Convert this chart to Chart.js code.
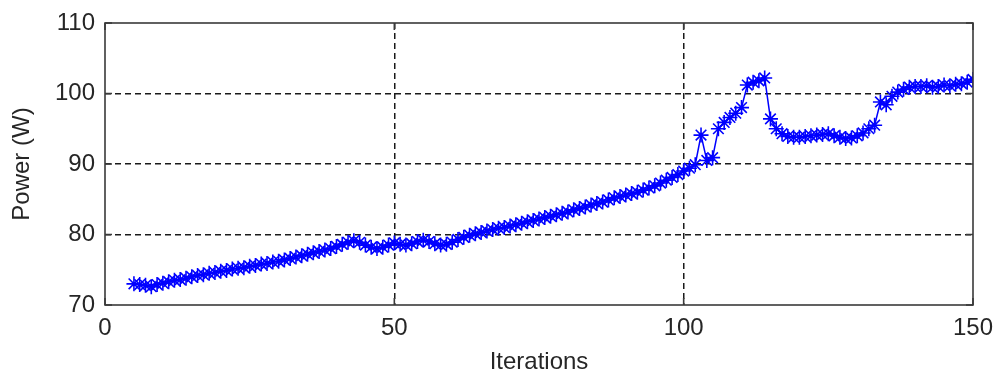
<!DOCTYPE html>
<html>
<head>
<meta charset="utf-8">
<script src="https://cdn.jsdelivr.net/npm/chart.js@4/dist/chart.umd.min.js"></script>
<style>
  html, body { margin: 0; padding: 0; background: #fff; }
  #holder { width: 998px; height: 374px; position: relative; }
</style>
</head>
<body>
<div id="holder"><canvas id="c1"></canvas></div>
<script>
// values
var iterations = [
    5, 6, 7, 8, 9, 10, 11, 12, 13, 14, 15, 16, 17, 18, 19, 20, 21, 22, 23, 24,
    25, 26, 27, 28, 29, 30, 31, 32, 33, 34, 35, 36, 37, 38, 39, 40, 41, 42, 43, 44,
    45, 46, 47, 48, 49, 50, 51, 52, 53, 54, 55, 56, 57, 58, 59, 60, 61, 62, 63, 64,
    65, 66, 67, 68, 69, 70, 71, 72, 73, 74, 75, 76, 77, 78, 79, 80, 81, 82, 83, 84,
    85, 86, 87, 88, 89, 90, 91, 92, 93, 94, 95, 96, 97, 98, 99, 100, 101, 102, 103, 104,
    105, 106, 107, 108, 109, 110, 111, 112, 113, 114, 115, 116, 117, 118, 119, 120, 121, 122, 123, 124,
    125, 126, 127, 128, 129, 130, 131, 132, 133, 134, 135, 136, 137, 138, 139, 140, 141, 142, 143, 144,
    145, 146, 147, 148, 149, 150
];
var power = [
    73.0, 72.9, 72.8, 72.6, 72.9, 73.1, 73.3, 73.5, 73.6, 73.8, 74.0, 74.2, 74.3, 74.5, 74.6, 74.8, 74.9, 75.1, 75.2, 75.3,
    75.5, 75.6, 75.8, 75.9, 76.1, 76.2, 76.4, 76.6, 76.8, 77.0, 77.2, 77.4, 77.6, 77.8, 78.0, 78.3, 78.6, 78.9, 79.1, 78.9,
    78.5, 78.2, 78.0, 78.2, 78.5, 78.8, 78.6, 78.5, 78.7, 79.0, 79.2, 79.0, 78.7, 78.5, 78.6, 78.9, 79.3, 79.6, 79.9, 80.1,
    80.3, 80.5, 80.7, 80.9, 81.0, 81.2, 81.4, 81.6, 81.8, 82.0, 82.2, 82.4, 82.6, 82.8, 83.0, 83.2, 83.5, 83.7, 83.9, 84.2,
    84.4, 84.6, 84.9, 85.2, 85.4, 85.6, 85.8, 86.0, 86.3, 86.6, 86.9, 87.3, 87.7, 88.1, 88.5, 89.0, 89.4, 89.9, 94.1, 90.5,
    90.9, 95.0, 95.9, 96.6, 97.2, 98.0, 101.2, 101.6, 101.8, 102.2, 96.4, 95.0, 94.3, 93.9, 93.8, 93.8, 93.9, 94.0, 94.1, 94.2,
    94.3, 94.0, 93.8, 93.6, 93.7, 94.0, 94.4, 95.0, 95.5, 98.8, 98.4, 99.6, 100.2, 100.6, 100.9, 101.0, 101.0, 101.1, 100.9, 101.0,
    101.2, 101.1, 101.3, 101.4, 101.6, 102.0
];
var xTicks = [0, 50, 100, 150];
var yTicks = [70, 80, 90, 100, 110];

var textColor = "#262626";
var fontFamily = "'Liberation Sans', Arial, sans-serif";

// box round the plot plus small inward ticks, matlab style
var boxPlugin = {
    id: "box",
    afterDraw: (chart) => {
        let ctx = chart.ctx;
        let a = chart.chartArea;
        let xs = chart.scales.x;
        let ys = chart.scales.y;
        ctx.save();
        ctx.strokeStyle = "#3a3a3a";
        ctx.lineWidth = 1.6;
        ctx.strokeRect(a.left, a.top, a.right - a.left, a.bottom - a.top);
        ctx.beginPath();
        for(let i=0; i<xTicks.length; i++) {
            let px = xs.getPixelForValue(xTicks[i]);
            ctx.moveTo(px, a.bottom); ctx.lineTo(px, a.bottom - 7);
            ctx.moveTo(px, a.top); ctx.lineTo(px, a.top + 7);
        }
        for(let i=0; i<yTicks.length; i++) {
            let py = ys.getPixelForValue(yTicks[i]);
            ctx.moveTo(a.left, py); ctx.lineTo(a.left + 7, py);
            ctx.moveTo(a.right, py); ctx.lineTo(a.right - 7, py);
        }
        ctx.stroke();
        ctx.restore();
    }
};

function gridColor(ctx) {
    let s = ctx.scale;
    if(ctx.tick == undefined) return "rgba(0,0,0,0)";
    if(ctx.tick.value == s.min || ctx.tick.value == s.max) return "rgba(0,0,0,0)";
    return "#1a1a1a";
}

function start() {
    let points = [];
    for(let i=0; i<iterations.length; i++)
        points.push({x: iterations[i], y: power[i]});

    new Chart(document.getElementById("c1"), {
        type: "line",
        data: {
            datasets: [{
                data: points,
                borderColor: "#0000ff",
                borderWidth: 1.5,
                pointStyle: "star",
                pointRadius: 7.5,
                pointBorderWidth: 1.6,
                pointBorderColor: "#0000ff",
                pointBackgroundColor: "#0000ff",
                tension: 0
            }]
        },
        options: {
            responsive: false,
            animation: false,
            devicePixelRatio: 1,
            layout: { padding: { left: 0, top: 23, right: 25, bottom: 0 } },
            plugins: { legend: { display: false }, tooltip: { enabled: false } },
            scales: {
                x: {
                    type: "linear",
                    min: 0, max: 150,
                    afterFit: (s) => { s.height = 69; s.paddingLeft = 0; s.paddingRight = 0; },
                    afterBuildTicks: (s) => { s.ticks = xTicks.map(v => ({value: v})); },
                    border: { display: false, dash: [6, 4] },
                    grid: { color: gridColor, lineWidth: 1.5, drawTicks: false, tickLength: 0 },
                    ticks: { color: textColor, padding: 11, maxRotation: 0,
                             font: { family: fontFamily, size: 24, lineHeight: 1 } },
                    title: { display: true, text: "Iterations", color: textColor,
                             padding: { top: 0, bottom: 0 },
                             font: { family: fontFamily, size: 24, lineHeight: 1 } }
                },
                y: {
                    type: "linear",
                    min: 70, max: 110,
                    afterFit: (s) => { s.width = 105; s.paddingTop = 0; s.paddingBottom = 0; },
                    afterBuildTicks: (s) => { s.ticks = yTicks.map(v => ({value: v})); },
                    border: { display: false, dash: [6, 4] },
                    grid: { color: gridColor, lineWidth: 1.5, drawTicks: false, tickLength: 0 },
                    ticks: { color: textColor, padding: 10,
                             font: { family: fontFamily, size: 24, lineHeight: 1 } },
                    title: { display: true, text: "Power (W)", color: textColor,
                             padding: { top: 10, bottom: 0 },
                             font: { family: fontFamily, size: 24, lineHeight: 1 } }
                }
            }
        },
        plugins: [boxPlugin]
    });
}

var c = document.getElementById("c1");
c.width = 998; c.height = 374;
start();
</script>
</body>
</html>
